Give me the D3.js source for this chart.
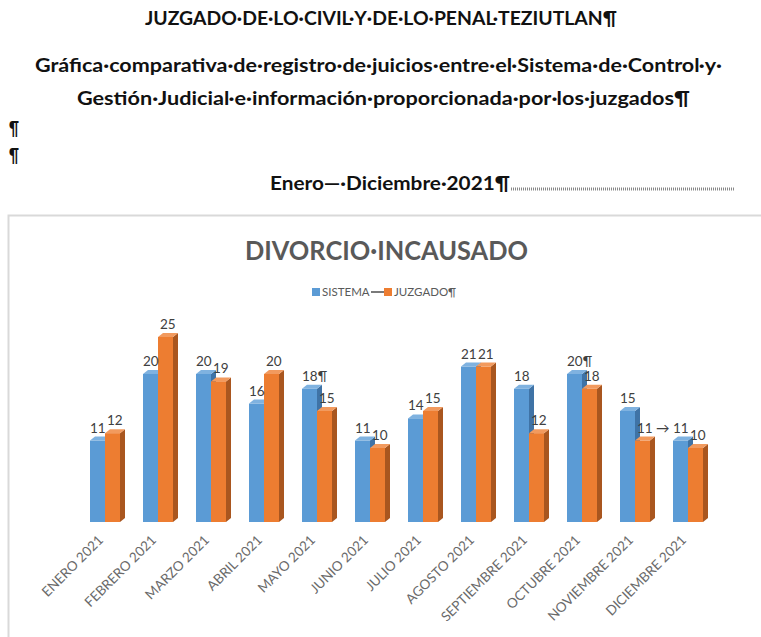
<!DOCTYPE html>
<html>
<head>
<meta charset="utf-8">
<script src="https://cdn.jsdelivr.net/npm/d3@7"></script>
<style>
  body { margin: 0; background: #fff; }
  svg { display: block; }
</style>
</head>
<body>
<div id="chart"></div>
<script>
var months = ['ENERO 2021', 'FEBRERO 2021', 'MARZO 2021', 'ABRIL 2021', 'MAYO 2021', 'JUNIO 2021',
    'JULIO 2021', 'AGOSTO 2021', 'SEPTIEMBRE 2021', 'OCTUBRE 2021', 'NOVIEMBRE 2021', 'DICIEMBRE 2021'];
var series = ['SISTEMA', 'JUZGADO'];
var sistema = [11, 20, 20, 16, 18, 11, 14, 21, 18, 20, 15, 11];
var juzgado = [12, 25, 19, 20, 15, 10, 15, 21, 12, 18, 11, 10];
// the labels carry the Word formatting marks seen in the picture
var sistemaLabels = ['11', '20', '20', '16', '18¶', '11', '14', '21', '18', '20¶', '15', '11'];
var juzgadoLabels = ['12', '25', '19', '20', '15', '10', '15', '21', '12', '18', '11 →', '10'];

var width = 761, height = 637;
var mainFont = 'Lato, "Open Sans", sans-serif';
var textColor = '#595959';
var depth = 5;

var colors = {
    SISTEMA: { front: '#5B9BD5', side: '#3F73A6', top: '#7FB2E0' },
    JUZGADO: { front: '#ED7D31', side: '#A9561F', top: '#F29A5E' }
};

var svg = d3.select('#chart').append('svg')
    .attr('width', width)
    .attr('height', height);

// document header, widths fitted to the page
function headLine(x, y, len, txt) {
    return header.append('text')
        .attr('x', x).attr('y', y)
        .attr('textLength', len)
        .attr('lengthAdjust', 'spacingAndGlyphs')
        .style('font-size', '19px')
        .text(txt);
}
var header = svg.append('g')
    .style('font-family', mainFont)
    .style('font-weight', 'bold')
    .style('fill', '#111');

headLine(145, 25, 472, 'JUZGADO·DE·LO·CIVIL·Y·DE·LO·PENAL·TEZIUTLAN¶');
headLine(35, 72, 687, 'Gráfica·comparativa·de·registro·de·juicios·entre·el·Sistema·de·Control·y·');
headLine(77, 105, 613, 'Gestión·Judicial·e·información·proporcionada·por·los·juzgados¶');
headLine(9, 135, 10, '¶');
headLine(9, 162, 10, '¶');
headLine(270, 190, 240, 'Enero—·Diciembre·2021¶');
header.append('line')
    .attr('x1', 511).attr('x2', 735).attr('y1', 189).attr('y2', 189)
    .style('stroke', '#888').style('stroke-width', 3).style('stroke-dasharray', '1,1');

// chart area border
svg.append('rect')
    .attr('x', 8.5).attr('y', 215.5)
    .attr('width', 760).attr('height', 440)
    .style('fill', '#fff')
    .style('stroke', '#d9d9d9')
    .style('stroke-width', 2);

svg.append('text')
    .attr('x', 245).attr('y', 260)
    .attr('textLength', 283)
    .attr('lengthAdjust', 'spacingAndGlyphs')
    .style('font-family', mainFont)
    .style('font-size', '27px')
    .style('font-weight', 'bold')
    .style('fill', textColor)
    .text('DIVORCIO·INCAUSADO');

// legend
var legend = svg.append('g')
    .style('font-family', mainFont)
    .style('font-size', '11.5px')
    .style('fill', textColor);
legend.append('rect').attr('x', 312).attr('y', 288).attr('width', 8).attr('height', 8)
    .style('fill', colors.SISTEMA.front);
legend.append('text').attr('x', 322).attr('y', 296).text('SISTEMA');
legend.append('line').attr('x1', 371).attr('x2', 386).attr('y1', 292).attr('y2', 292)
    .style('stroke', '#222').style('stroke-width', 1.2);
legend.append('rect').attr('x', 384).attr('y', 288).attr('width', 8).attr('height', 8)
    .style('fill', colors.JUZGADO.front);
legend.append('text').attr('x', 394).attr('y', 296).text('JUZGADO¶');

// scales
var x = d3.scaleBand()
    .domain(months)
    .range([78.5, 78.5 + 12 * 53])
    .paddingInner(23 / 53)
    .paddingOuter(11.5 / 53);
var xs = d3.scaleBand().domain(series).range([0, x.bandwidth()]);
var y = d3.scaleLinear().domain([0, 25]).range([522, 337]);

var rows = months.map(function(m, i) {
    return [
        { month: m, key: 'SISTEMA', value: sistema[i], label: sistemaLabels[i] },
        { month: m, key: 'JUZGADO', value: juzgado[i], label: juzgadoLabels[i] }
    ];
});

var groups = svg.append('g').selectAll('g')
    .data(rows)
    .enter().append('g')
    .attr('transform', function(d) { return 'translate(' + x(d[0].month) + ',0)'; });

groups.each(function(d) {
    var g = d3.select(this);
    d.forEach(function(b) {
        var bx = xs(b.key), bw = xs.bandwidth();
        var top = y(b.value), base = y(0);
        var c = colors[b.key];
        // side face
        g.append('path')
            .attr('d', 'M' + (bx + bw) + ',' + top + 'L' + (bx + bw + depth) + ',' + (top - depth + 1) +
                'L' + (bx + bw + depth) + ',' + (base - depth + 1) + 'L' + (bx + bw) + ',' + base + 'Z')
            .style('fill', c.side);
        // top face
        g.append('path')
            .attr('d', 'M' + bx + ',' + top + 'L' + (bx + depth) + ',' + (top - depth + 1) +
                'L' + (bx + bw + depth) + ',' + (top - depth + 1) + 'L' + (bx + bw) + ',' + top + 'Z')
            .style('fill', c.top);
        // front face
        g.append('rect')
            .attr('x', bx).attr('y', top)
            .attr('width', bw).attr('height', base - top)
            .style('fill', c.front);
    });
    // value labels above each bar
    d.forEach(function(b) {
        g.append('text')
            .attr('x', xs(b.key) + (b.key === 'SISTEMA' ? 0 : 2))
            .attr('y', y(b.value) - 8)
            .style('font-family', mainFont)
            .style('font-size', '13.5px')
            .style('fill', '#404040')
            .text(b.label);
    });
});

// rotated category labels
svg.append('g').selectAll('text')
    .data(months)
    .enter().append('text')
    .attr('transform', function(m) {
        return 'translate(' + (x(m) + x.bandwidth() / 2 - 1) + ',541) rotate(-45)';
    })
    .attr('text-anchor', 'end')
    .style('font-family', mainFont)
    .style('font-size', '13.5px')
    .style('fill', '#6a6a6a')
    .text(function(m) { return m; });
</script>
</body>
</html>
